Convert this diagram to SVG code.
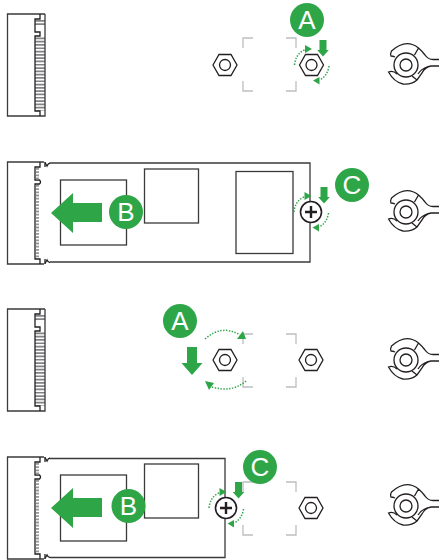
<svg xmlns="http://www.w3.org/2000/svg" width="439" height="560" viewBox="0 0 439 560">
<style>
.k{fill:none;stroke:#231f20;stroke-width:1.3}
.s{fill:none;stroke:#3a3a3a;stroke-width:1.3}
.br{fill:none;stroke:#bcbec0;stroke-width:1.3}
.g{fill:#2ea648}
.d{fill:none;stroke:#2ea648;stroke-width:1.5;stroke-dasharray:1.4 1.5}
.t{fill:#fff;font-family:"Liberation Sans",Arial,sans-serif;font-size:26px;text-anchor:middle}
</style>
<defs>
<g id="slot">
<path d="M40 37.500V110.500" fill="none" stroke="#808285" stroke-width="10" stroke-dasharray="1.700 1.600"/>
<path d="M40 20V26" fill="none" stroke="#808285" stroke-width="10" stroke-dasharray="1.700 1.600"/>
<path class="s" d="M45 14H7.500V116H45V14"/>
<path class="k" d="M40 14V19H35V32H40V36H35V111H40V116"/>
</g>
<g id="mslot">
<path class="s" d="M44 14H7.500V116H44"/>
<path class="k" d="M40 14V19H35V32H39.500Q41.500 34 39.500 36H35V111H40V116M45 14V19M45 111V116"/>
<path stroke="#939598" stroke-width="3" stroke-dasharray="1.800 1.400" fill="none" d="M37.500 20V32M37.500 37V110"/>
<path class="k" d="M45 14.500L47 18Q48 15.500 50 15M45 115.500L47 112Q48 114.500 50 114.500"/>
</g>
<g id="nut">
<path class="k" d="M-12 0L-6 -10.500H6L12 0L6 10.500H-6Z"/>
<circle class="k" r="5.500"/>
</g>
<g id="wrench">
<path class="k" d="M-11 -8Q-13 -9 -15 -9Q-16 -11 -14.500 -14Q0 -27 12.500 -17Q16 -14 19 -10Q22 -5.500 27 -5.500H33M33 1H25Q19 2 16 8L11 15Q5 20 -3 19Q-12 17 -17.500 7Q-13 5 -9 9M12.500 -17L8.500 -10M11 15L6 11M22 1.500Q15 4 12 9"/>
<circle class="k" r="12"/>
<circle class="k" r="6"/>
</g>
<g id="screw">
<circle r="10.500" fill="#fff" stroke="#231f20" stroke-width="1.600"/>
<path d="M-6 0H6M0 -6V6" stroke="#231f20" stroke-width="2.400" fill="none"/>
</g>
<path id="down" class="g" d="M-3.500 -8H3.500V2H5.800L0 8.500L-5.800 2H-3.500Z"/>
<g id="spin">
<path class="d" d="M-17 0Q-16 -11 -7 -15"/>
<path class="g" d="M0.500 -16L-6.500 -20V-12Z"/>
<path class="d" d="M17.500 1Q16 11 8 15"/>
<path class="g" d="M1.500 15.500L8 12V19.500Z"/>
</g>
<path id="bigleft" class="g" d="M51 0L73 -20V-10H102V9H73V20Z"/>
<g id="brackets">
<path class="br" d="M243 48V38H253M286 38H296V48M296 81V91H286M253 91H243V81"/>
</g>
</defs>

<g id="connectors"></g>

<g id="slot-1"><use href="#slot"/></g>
<g id="brackets-1"><use href="#brackets"/></g>
<g id="nut-1a"><use href="#nut" x="225" y="65"/></g>
<g id="nut-1b"><use href="#nut" x="311.500" y="65"/></g>
<g id="spin-1"><use href="#spin" x="311.500" y="65"/></g>
<g id="arrow-1"><use href="#down" x="323" y="48"/></g>
<g id="badge-A1"><circle class="g" cx="307" cy="20" r="17"/><text class="t" x="307" y="29">A</text></g>
<g id="wrench-1"><use href="#wrench" x="406" y="65"/></g>

<g id="slot-2"><use href="#mslot" y="148"/></g>
<g id="module-2">
<path class="s" d="M50 163H310V262H50"/>
<rect class="s" x="60.500" y="180" width="66" height="65"/>
<rect class="s" x="144.500" y="169" width="54" height="54"/>
<rect class="s" x="236" y="171.500" width="57" height="82"/>
</g>
<g id="arrow-2b"><use href="#bigleft" y="213"/></g>
<g id="badge-B2"><circle class="g" cx="126" cy="212" r="17"/><text class="t" x="126" y="221">B</text></g>
<g id="screw-2"><use href="#screw" x="311" y="212"/></g>
<g id="spin-2"><use href="#spin" x="311" y="212"/></g>
<g id="arrow-2c"><use href="#down" x="324" y="195"/></g>
<g id="badge-C2"><circle class="g" cx="352" cy="185" r="17"/><text class="t" x="352" y="194">C</text></g>
<g id="wrench-2"><use href="#wrench" x="406" y="212"/></g>

<g id="slot-3"><use href="#slot" y="295"/></g>
<g id="brackets-3"><use href="#brackets" y="296"/></g>
<g id="nut-3a"><use href="#nut" x="225" y="360"/></g>
<g id="nut-3b"><use href="#nut" x="311" y="360"/></g>
<g id="spin-3">
<path class="d" d="M205 339Q222 324 240 335"/>
<path class="g" d="M243 331L246 339L237 339Z"/>
<path class="d" d="M246 381Q232 393 212 387"/>
<path class="g" d="M205 381L214 383L209 390Z"/>
</g>
<path id="arrow-3" class="g" d="M187 347H197V363H202.500L192 375L181.500 363H187Z"/>
<g id="badge-A3"><circle class="g" cx="180" cy="321" r="17"/><text class="t" x="180" y="330">A</text></g>
<g id="wrench-3"><use href="#wrench" x="406" y="360"/></g>

<g id="slot-4"><use href="#mslot" y="443"/></g>
<g id="module-4">
<path class="s" d="M50 458.500H225V557.500H50"/>
<rect class="s" x="60.500" y="475" width="66" height="66"/>
<rect class="s" x="144.500" y="464" width="54" height="54"/>
</g>
<g id="arrow-4b"><use href="#bigleft" y="508"/></g>
<g id="badge-B4"><circle class="g" cx="128.500" cy="506" r="17"/><text class="t" x="128.500" y="515">B</text></g>
<g id="brackets-4"><use href="#brackets" y="444"/></g>
<g id="nut-4"><use href="#nut" x="311" y="508"/></g>
<g id="screw-4"><use href="#screw" x="226" y="508"/></g>
<g id="spin-4"><use href="#spin" x="226" y="508"/></g>
<g id="arrow-4c"><use href="#down" x="238.500" y="490"/></g>
<g id="badge-C4"><circle class="g" cx="260" cy="467" r="17"/><text class="t" x="260" y="476">C</text></g>
<g id="wrench-4"><use href="#wrench" x="406" y="506"/></g>
</svg>
